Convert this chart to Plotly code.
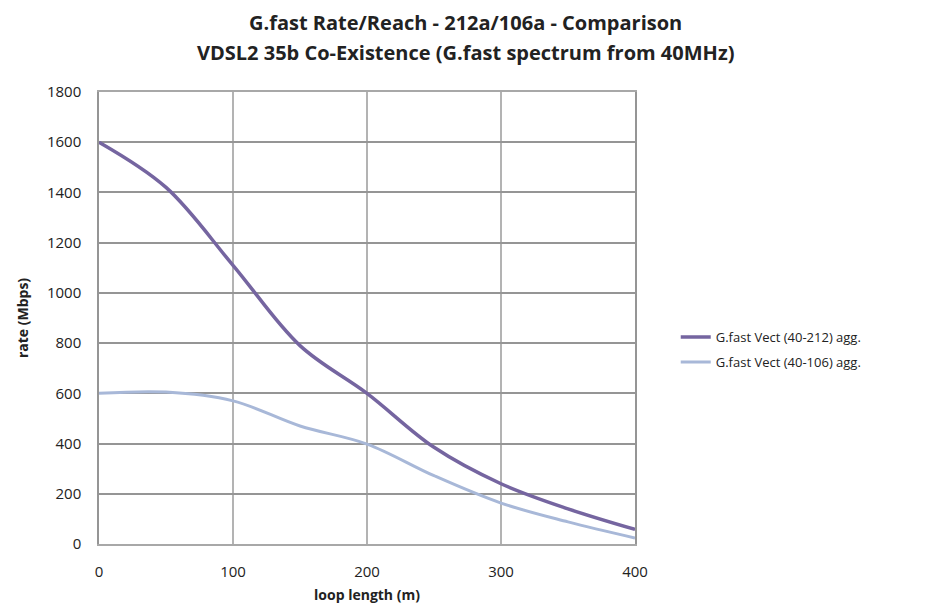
import plotly.graph_objects as go

loop_length = [0, 50, 100, 150, 200, 250, 300, 350, 400]
rate_212 = [1600, 1420, 1110, 790, 600, 385, 240, 140, 58]
rate_106 = [600, 605, 570, 470, 398, 272, 163, 88, 24]

names = ["G.fast Vect (40-212) agg.", "G.fast Vect (40-106) agg."]
title_lines = ["G.fast Rate/Reach - 212a/106a - Comparison",
               "VDSL2 35b Co-Existence (G.fast spectrum from 40MHz)"]
font_family = "Open Sans, sans-serif"

fig = go.Figure()
fig.add_trace(go.Scatter(x=loop_length, y=rate_212, mode="lines", name=names[0],
                         legendgroup="a",
                         line=dict(color="#7565A0", width=3.5, shape="spline", smoothing=1.0)))
fig.add_trace(go.Scatter(x=loop_length, y=rate_106, mode="lines", name=names[1],
                         legendgroup="b",
                         line=dict(color="#A8B8D8", width=3, shape="spline", smoothing=1.0)))

fig.update_layout(
    width=932, height=604,
    margin=dict(l=91, r=305, t=84, b=68),
    paper_bgcolor="white", plot_bgcolor="white",
    font=dict(family=font_family, size=14, color="#222222"),
    legend=dict(x=1.076, y=0.43, xanchor="left", yanchor="middle",
                font=dict(size=13, family=font_family), bgcolor="rgba(0,0,0,0)",
                tracegroupgap=5, traceorder="grouped"),
    showlegend=True,
)
fig.add_annotation(text="<b>" + title_lines[0] + "</b>", xref="paper", yref="paper",
                   x=0.683, y=1.154, xanchor="center", yanchor="middle", showarrow=False,
                   font=dict(size=20, family=font_family, color="#222222"))
fig.add_annotation(text="<b>" + title_lines[1] + "</b>", xref="paper", yref="paper",
                   x=0.683, y=1.087, xanchor="center", yanchor="middle", showarrow=False,
                   font=dict(size=20, family=font_family, color="#222222"))

fig.update_xaxes(range=[0, 400], tickvals=[0, 100, 200, 300, 400], showgrid=True,
                 gridcolor="#B3B3B3", gridwidth=2, showline=True, linecolor="#A8A8A8",
                 linewidth=2, mirror=True, zeroline=False, ticks="", ticklabelstandoff=13,
                 tickfont=dict(size=15), automargin=False,
                 title=dict(text="<b>loop length (m)</b>", standoff=10, font=dict(size=14)))
fig.update_yaxes(range=[0, 1800], tickvals=list(range(0, 1801, 200)), showgrid=True,
                 gridcolor="#959595", gridwidth=1.5, showline=True, linecolor="#959595",
                 linewidth=1.5, mirror=True, zeroline=False, ticks="", ticklabelstandoff=13,
                 tickfont=dict(size=15), automargin=False,
                 title=dict(text="<b>rate (Mbps)</b>", standoff=15, font=dict(size=14)))

fig.write_html("out.html")
